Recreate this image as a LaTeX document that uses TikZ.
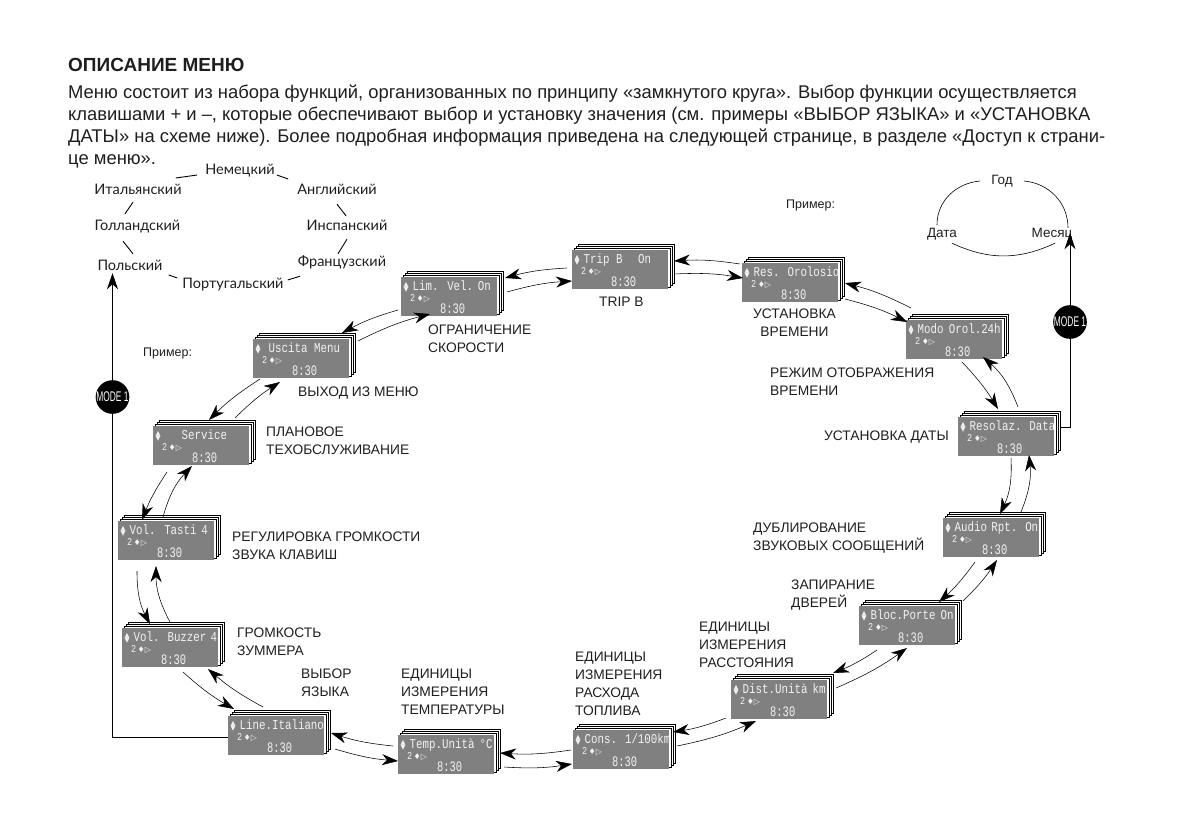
\documentclass[tikz,border=0pt]{standalone}
\usepackage{fontspec}
\setmainfont{Liberation Sans}
\newfontfamily\langfont{Lato}
\newfontfamily\lcdfont[FakeStretch=0.8]{Liberation Mono}
\newfontfamily\timefont[FakeStretch=0.72]{Liberation Mono}
\newfontfamily\iconfont{DejaVu Sans}
\newfontfamily\modefont[FakeStretch=0.6]{Liberation Sans}
\usepackage{xcolor}
\usetikzlibrary{arrows.meta,positioning,calc}
\definecolor{lcdgray}{HTML}{808080}
\definecolor{inkblack}{HTML}{1E1E1E}
\tikzstyle{lcd} = [rectangle, fill=lcdgray, text=white!90!lcdgray, anchor=north west, inner sep=0pt, minimum width=96pt, minimum height=39pt]
\tikzstyle{sheet} = [rectangle, draw=black, fill=white, line width=0.7pt, anchor=north west, minimum width=96pt, minimum height=39pt]
\tikzstyle{menutext} = [anchor=north west, inner sep=0pt, align=left, text=inkblack, font=\fontsize{13.8}{18}\selectfont]
\tikzstyle{lang} = [inner sep=0pt, text height=9pt, text depth=3pt, text=inkblack, font=\langfont\fontsize{14.5}{16}\selectfont]
\tikzstyle{datenode} = [inner sep=3pt, text=inkblack, font=\fontsize{13.5}{15}\selectfont]
\tikzstyle{modebtn} = [circle, fill=black, text=white, inner sep=0pt, minimum size=32pt, font=\modefont\fontsize{14}{14}\selectfont]
\tikzstyle{arrow} = [line width=0.55pt,->,>={Stealth[length=16pt,width=11pt,inset=5pt]}]
\tikzstyle{modeline} = [line width=0.8pt]
\tikzstyle{langlink} = [line width=0.9pt]
\tikzstyle{cw} = [bend left=6]
\tikzstyle{ccw} = [bend right=6]
\tikzstyle{cwb} = [bend left=14]
\tikzstyle{ccwb} = [bend right=14]
\newcommand{\lcdarrows}{\rlap{\raisebox{3.8pt}{\iconfont\fontsize{6.5}{6.5}\selectfont ▲}}\raisebox{-1.4pt}{\iconfont\fontsize{6.5}{6.5}\selectfont ▼}\hskip 4pt}
\newcommand{\lcdtext}[1]{\vbox{\offinterlineskip\vskip 13pt
  \hbox{\smash{\hbox to 96pt{\hskip 2.5pt\lcdarrows\lcdfont\fontsize{13.5}{13.5}\selectfont #1\hfil\hskip 1.5pt}}}\vskip 11pt
  \hbox{\smash{\hbox{\hskip 9pt\lcdfont\fontsize{10.5}{10.5}\selectfont 2\hskip 1.5pt\iconfont\fontsize{8}{8}\selectfont ♦▷}}}\vskip 12pt
  \hbox{\smash{\hbox{\hskip 39pt\timefont\fontsize{14.5}{14.5}\selectfont 8:30}}}\vskip 3pt}}
\newcommand{\lcdpanel}[4]{
  \foreach \off in {6,4,2} \node[sheet] (#1-b\off) at (#2+\off,#3-\off) {};
  \node[lcd] (#1) at (#2,#3) {\lcdtext{#4}};
}
\begin{document}
\begin{tikzpicture}[x=1pt, y=-1pt]
    \useasboundingbox (0,0) rectangle (1191,839);
    % heading and paragraph
    \node[anchor=north west, inner sep=0pt, text=inkblack, font=\bfseries\fontsize{19}{22}\selectfont] (title) at (68,58) {ОПИСАНИЕ МЕНЮ};
    \node[anchor=north west, inner sep=0pt, align=left, text=inkblack, font=\fontsize{18.4}{22}\selectfont] (intro) at (68,85) {Меню состоит из набора функций, организованных по принципу «замкнутого круга». Выбор функции осуществляется\\
    клавишами + и –, которые обеспечивают выбор и установку значения (см. примеры «ВЫБОР ЯЗЫКА» и «УСТАНОВКА\\
    ДАТЫ» на схеме ниже). Более подробная информация приведена на следующей странице, в разделе «Доступ к страни-\\
    це меню».};
    % language ring
    \node[lang] (nem) at (240,171) {Немецкий};
    \node[lang] (ital) at (138,191) {Итальянский};
    \node[lang] (angl) at (337,191) {Английский};
    \node[lang] (goll) at (137.5,227) {Голландский};
    \node[lang] (insp) at (347,227) {Инспанский};
    \node[lang] (pols) at (130,267) {Польский};
    \node[lang] (fran) at (342,263) {Французский};
    \node[lang] (port) at (233,285) {Португальский};
    \draw[langlink] ([shift={(-8,4)}]nem.west) -- ([shift={(-6,-13)}]ital.east);
    \draw[langlink] ([shift={(2,4)}]nem.east) -- ([shift={(-9,-12)}]angl.west);
    \draw[langlink] ([shift={(0,7)}]angl.south) -- ([shift={(-1,-5)}]insp.north);
    \draw[langlink] ([shift={(0,6)}]insp.south) -- ([shift={(-4,-3)}]fran.north);
    \draw[langlink] ([shift={(-42,7)}]fran.south) -- ([shift={(4,-5)}]port.east);
    \draw[langlink] ([shift={(-5,-7)}]port.west) -- ([shift={(6,8)}]pols.east);
    \draw[langlink] ([shift={(3,-7)}]pols.north) -- ([shift={(-14.5,8)}]goll.south);
    \draw[langlink] ([shift={(-12.5,-7)}]goll.north) -- ([shift={(-5,5)}]ital.south);
    % date ring
    \node[datenode, inner xsep=11pt] (god) at (1002,181) {Год};
    \node[datenode] (dat) at (942,234) {Дата};
    \node[datenode] (mes) at (1052,234) {Месяц};
    \draw[line width=0.6pt] (god.west) to[out=185,in=90] ([xshift=-5]dat.north);
    \draw[line width=0.6pt] (god.east) to[out=-5,in=90] ([xshift=16,yshift=-3]mes.north);
    \draw[line width=0.6pt] ([xshift=10]dat.south) to[out=-25,in=205] ([xshift=3]mes.south);
    % menu pages
    \lcdpanel{usc}{253}{339}{\hskip 4pt Uscita Menu}
    \lcdpanel{lim}{401}{277}{Lim. Vel.\hfil On}
    \lcdpanel{trip}{572}{250}{Trip B\hfil On}
    \lcdpanel{res}{742}{263}{Res. Orolosio}
    \lcdpanel{modo}{906}{320}{Modo Orol.24h}
    \lcdpanel{resol}{958}{417}{Resolaz. Data}
    \lcdpanel{audio}{943}{518}{Audio Rpt. On}
    \lcdpanel{bloc}{859}{606}{Bloc.Porte On}
    \lcdpanel{dist}{731}{680}{Dist.Unità km}
    \lcdpanel{cons}{573}{730}{Cons. 1/100km}
    \lcdpanel{temp}{398}{735}{Temp.Unità °C}
    \lcdpanel{line}{228}{716}{Line.Italiano}
    \lcdpanel{buzzer}{122}{628}{Vol. Buzzer 4}
    \lcdpanel{tasti}{118}{521}{Vol. Tasti\hfil 4}
    \lcdpanel{service}{153}{426}{\hskip 17pt Service}
    % page captions
    \node[menutext] (capLim) at (428,325) {ОГРАНИЧЕНИЕ\\СКОРОСТИ};
    \node[menutext] (capTrip) at (599,297) {TRIP B};
    \node[menutext, align=center] (capRes) at (753,309) {УСТАНОВКА\\ВРЕМЕНИ};
    \node[menutext] (capUsc) at (298,387) {ВЫХОД ИЗ МЕНЮ};
    \node[menutext] (capService) at (266,427) {ПЛАНОВОЕ\\ТЕХОБСЛУЖИВАНИЕ};
    \node[menutext] (capTasti) at (232,532) {РЕГУЛИРОВКА ГРОМКОСТИ\\ЗВУКА КЛАВИШ};
    \node[menutext] (capBuzzer) at (237,628) {ГРОМКОСТЬ\\ЗУММЕРА};
    \node[menutext] (capLine) at (301,669) {ВЫБОР\\ЯЗЫКА};
    \node[menutext] (capTemp) at (401,669) {ЕДИНИЦЫ\\ИЗМЕРЕНИЯ\\ТЕМПЕРАТУРЫ};
    \node[menutext] (capCons) at (575,652) {ЕДИНИЦЫ\\ИЗМЕРЕНИЯ\\РАСХОДА\\ТОПЛИВА};
    \node[menutext] (capDist) at (699,622) {ЕДИНИЦЫ\\ИЗМЕРЕНИЯ\\РАССТОЯНИЯ};
    \node[menutext] (capBloc) at (791,580) {ЗАПИРАНИЕ\\ДВЕРЕЙ};
    \node[menutext] (capAudio) at (753,523) {ДУБЛИРОВАНИЕ\\ЗВУКОВЫХ СООБЩЕНИЙ};
    \node[menutext] (capResol) at (824,431) {УСТАНОВКА ДАТЫ};
    \node[menutext] (capModo) at (770,368) {РЕЖИМ ОТОБРАЖЕНИЯ\\ВРЕМЕНИ};
    \node[menutext, font=\fontsize{12.5}{15}\selectfont] (exA) at (786,200) {Пример:};
    \node[menutext, font=\fontsize{12.5}{15}\selectfont] (exB) at (143,348) {Пример:};
    % arrows round the ring
    \draw[arrow] ([shift={(-3,33)}]lim.north west) to[ccw] ([shift={(89,-6)}]usc.north west);
    \draw[arrow] ([shift={(105,2)}]usc.north west) to[cw] ([shift={(29,37)}]lim.north west);
    \draw[arrow] ([shift={(-5,18)}]trip.north west) to[ccw] ([shift={(104,1)}]lim.north west);
    \draw[arrow] ([shift={(106,15)}]lim.north west) to[cw] ([shift={(0,31)}]trip.north west);
    \draw[arrow] ([shift={(-2,1)}]res.north west) to[ccw] ([shift={(102,11)}]trip.north west);
    \draw[arrow] ([shift={(102,24)}]trip.north west) to[cw] ([shift={(1,15)}]res.north west);
    \draw[arrow] ([shift={(5,-12)}]modo.north west) to[ccw] ([shift={(103,20)}]res.north west);
    \draw[arrow] ([shift={(103,36)}]res.north west) to[cw] ([shift={(1,2)}]modo.north west);
    \draw[arrow] ([shift={(56,42)}]modo.north west) to[cw] ([shift={(40,-8)}]resol.north west);
    \draw[arrow] ([shift={(60,-10)}]resol.north west) to[ccwb] ([shift={(77,37)}]modo.north west);
    \draw[arrow] ([shift={(53,41)}]resol.north west) to[cwb] ([shift={(57,-4)}]audio.north west);
    \draw[arrow] ([shift={(78,-6)}]audio.north west) to[ccwb] ([shift={(71,38)}]resol.north west);
    \draw[arrow] ([shift={(32,44)}]audio.north west) to[cw] ([shift={(80,-4)}]bloc.north west);
    \draw[arrow] ([shift={(104,-5)}]bloc.north west) to[ccw] ([shift={(54,42)}]audio.north west);
    \draw[arrow] ([shift={(18,44)}]bloc.north west) to[cw] ([shift={(102,-7)}]dist.north west);
    \draw[arrow] ([shift={(105,8)}]dist.north west) to[ccw] ([shift={(48,42)}]bloc.north west);
    \draw[arrow] ([shift={(-5,38)}]dist.north west) to[cw] ([shift={(100,2)}]cons.north west);
    \draw[arrow] ([shift={(104,16)}]cons.north west) to[ccw] ([shift={(25,41)}]dist.north west);
    \draw[arrow] ([shift={(-2,20)}]cons.north west) to[cw] ([shift={(102,18)}]temp.north west);
    \draw[arrow] ([shift={(106,32)}]temp.north west) to[ccw] ([shift={(-1,34)}]cons.north west);
    \draw[arrow] ([shift={(-5,11)}]temp.north west) to[cw] ([shift={(103,17)}]line.north west);
    \draw[arrow] ([shift={(107,33)}]line.north west) to[ccw] ([shift={(0,26)}]temp.north west);
    \draw[arrow] ([shift={(61,44)}]buzzer.north west) to[ccw] ([shift={(6,-7)}]line.north west);
    \draw[arrow] ([shift={(35,-9)}]line.north west) to[cw] ([shift={(86,41)}]buzzer.north west);
    \draw[arrow] ([shift={(19,50)}]tasti.north west) to[ccwb] ([shift={(28,-4)}]buzzer.north west);
    \draw[arrow] ([shift={(48,-6)}]buzzer.north west) to[cwb] ([shift={(38,45)}]tasti.north west);
    \draw[arrow] ([shift={(14,46)}]service.north west) to[ccw] ([shift={(24,-1)}]tasti.north west);
    \draw[arrow] ([shift={(45,-4)}]tasti.north west) to[cwb] ([shift={(39,40)}]service.north west);
    \draw[arrow] ([shift={(7,40)}]usc.north west) to[ccw] ([shift={(56,-6)}]service.north west);
    \draw[arrow] ([shift={(82,-8)}]service.north west) to[cw] ([shift={(27,43)}]usc.north west);
    % MODE 1 branches
    \node[modebtn] (modeL) at (112.5,397) {MODE 1};
    \node[modebtn] (modeR) at (1070,322) {MODE 1};
    \draw[modeline] ([yshift=-2]line.west) -| (modeL);
    \draw[arrow, line width=0.8pt] (modeL) -- (modeL |- pols.south);
    \draw[modeline] ([yshift=3]resol-b6.east) -| (modeR);
    \draw[arrow, line width=0.8pt] (modeR) -- ([yshift=10]modeR |- mes.south);
\end{tikzpicture}
\end{document}
